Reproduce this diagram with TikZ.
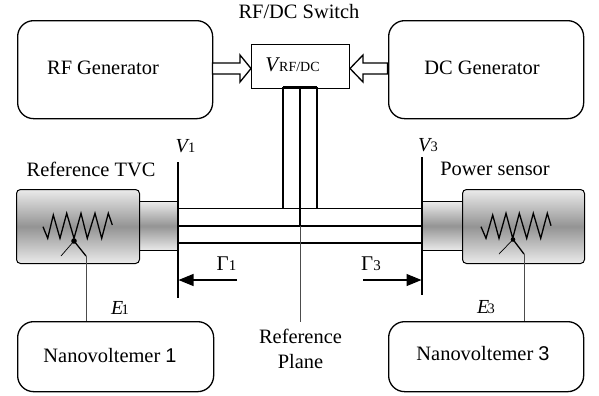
\documentclass[tikz,border=0pt]{standalone}
\usepackage{fontspec}
\setmainfont{Liberation Serif}
\newfontfamily\digitfont{Liberation Sans}
\usetikzlibrary{arrows.meta}
\newcommand{\fs}[1]{\fontsize{#1}{#1}\selectfont}
\newcommand{\lbl}[2]{{\fs{20}\textit{#1}\hspace{-1.5pt}{\fs{14.5}#2}}}
\tikzset{
  x=1bp,y=-1bp,
  genbox/.style={draw=black,line width=1.3bp,rounded corners=16bp,fill=white},
  txt/.style={inner sep=0pt,font=\fs{20.5}},
  wall/.style={line width=1.4bp},
  thin wire/.style={line width=0.8bp,draw=black!70},
  thick wire/.style={line width=2.5bp},
  blockarrow/.style={draw=black,line width=1.3bp,fill=white,line join=miter},
  metal/.style={top color=white!92!black,bottom color=white!92!black,middle color=black!42,draw=black,line width=1bp},
  zig/.style={line width=1.3bp,line join=miter},
  flow/.style={line width=1.1bp,-{Triangle[length=15bp,width=12bp]}}
}
\begin{document}
\begin{tikzpicture}
\useasboundingbox (0,0) rectangle (599,395);
% generators
\node[genbox,minimum width=195bp,minimum height=98bp,anchor=north west] (rf) at (17,20) {};
\node[genbox,minimum width=195bp,minimum height=98bp,anchor=north west] (dc) at (388,20) {};
\node[txt] (rft) at (103,68) {RF Generator};
\node[txt] (dct) at (482,68) {DC Generator};
\node[txt] (swt) at (299,12) {RF/DC Switch};
% switch
\node[draw=black,line width=1.3bp,minimum width=98bp,minimum height=44bp,anchor=north west,fill=white] (sw) at (251,44) {};
\node[inner sep=0pt] (swl) at (292.5,65) {{\fs{21}\textit{V}}\hspace{-1pt}{\fs{14}RF/DC}};
% block arrows
\draw[blockarrow] (212.5,63) -- (240,63) -- (240,55) -- (251,68.5) -- (240,82) -- (240,74) -- (212.5,74) -- cycle;
\draw[blockarrow] (387.5,63) -- (363,63) -- (363,55) -- (350,68.5) -- (363,82) -- (363,74) -- (387.5,74) -- cycle;
% stem
\coordinate (a1) at (283,87); \coordinate (a2) at (283,208.5);
\coordinate (b1) at (317,87); \coordinate (b2) at (317,208.5);
\draw[wall] (a1) -- (a2);
\draw[wall] (b1) -- (b2);
\draw[wall] (a1) -- (b1);
% connectors / loads
\node[metal,minimum width=39bp,minimum height=49bp,anchor=north west] (cl) at (139,201) {};
\node[metal,minimum width=40bp,minimum height=49bp,anchor=north west] (cr) at (422,201) {};
\node[metal,rounded corners=4bp,minimum width=123bp,minimum height=74bp,anchor=north west] (tvc) at (16,189) {};
\node[metal,rounded corners=4bp,minimum width=122bp,minimum height=74bp,anchor=north west] (ps) at (462,189) {};
% line
\coordinate (l1) at (178,208.5); \coordinate (r1) at (422,208.5);
\coordinate (l2) at (178,226); \coordinate (r2) at (422,226);
\coordinate (l3) at (178,243); \coordinate (r3) at (422,243);
\draw[wall] (l1) -- (r1);
\draw[wall] (l3) -- (r3);
\draw[thick wire] (l2) -- (r2);
\coordinate (ct) at (300,87); \coordinate (cb) at (300,226);
\draw[thick wire] (ct) -- (cb);
% reference plane line
\coordinate (pb) at (300,322);
\draw[thin wire] (cb) -- (pb);
% planes
\coordinate (v1t) at (178,162); \coordinate (v1b) at (178,298);
\coordinate (v3t) at (422,157); \coordinate (v3b) at (422,295);
\draw[wall] (v1t) -- (v1b);
\draw[wall] (v3t) -- (v3b);
% resistors
\draw[zig] (43,226.7) -- (47.7,238.3) -- (53.3,215) -- (60,238.3) -- (66.7,213.3) -- (74,238.3) -- (81,213.3) -- (87.3,238.3) -- (95,213.3) -- (101.7,238.3) -- (108.3,213.3) -- (112.3,225);
\fill (74,241) circle (2.8bp);
\draw[line width=0.7bp] (74,241) -- (61,256);
\draw[line width=1.3bp] (74,241) -- (86,256);
\draw[zig] (481,226.7) -- (486,238.3) -- (492.7,215) -- (499,238.3) -- (506,213.3) -- (512.7,238.3) -- (519.3,213.3) -- (526.7,238.3) -- (533.3,213.3) -- (540.7,238.3) -- (547.3,213.3) -- (551,225.7);
\fill (513,239.5) circle (2.3bp);
\draw[line width=0.7bp] (513,239.5) -- (499,254);
\draw[line width=1.3bp] (513,239.5) -- (524,254);
% nanovoltmeters
\node[genbox,minimum width=196bp,minimum height=70bp,anchor=north west] (n1) at (17,321) {};
\node[genbox,minimum width=195bp,minimum height=70bp,anchor=north west] (n3) at (388,321) {};
\coordinate (w1) at (86,256); \coordinate (w3) at (524,254);
\draw[thin wire] (w1) -- (w1|-n1.north);
\draw[thin wire] (w3) -- (w3|-n3.north);
\node[txt] (n1t) at (110,356) {Nanovoltemer {\digitfont\fs{20}1}};
\node[txt] (n3t) at (483,354) {Nanovoltemer {\digitfont\fs{20}3}};
% flow arrows
\coordinate (g1s) at (237,280); \coordinate (g1e) at (178.5,280);
\coordinate (g3s) at (363,280); \coordinate (g3e) at (421.5,280);
\draw[flow] (g1s) -- (g1e);
\draw[flow] (g3s) -- (g3e);
% labels
\node[txt] (tvct) at (91,169) {Reference TVC};
\node[txt] (pst) at (495,169) {Power sensor};
\node[inner sep=0pt] (v1l) at (185.5,146) {\lbl{V}{1}};
\node[inner sep=0pt] (v3l) at (428,145) {\lbl{V}{3}};
\node[inner sep=0pt] (g1l) at (226.5,264) {{\fs{21}Γ}{\fs{15}1}};
\node[inner sep=0pt] (g3l) at (371,264) {{\fs{21}Γ}{\fs{15}3}};
\node[inner sep=0pt] (e1l) at (120,308) {\lbl{E}{1}};
\node[inner sep=0pt] (e3l) at (486,307) {\lbl{E}{3}};
\node[txt] (rp1) at (300.5,336) {Reference};
\node[txt] (rp2) at (300.5,362) {Plane};
\end{tikzpicture}
\end{document}
